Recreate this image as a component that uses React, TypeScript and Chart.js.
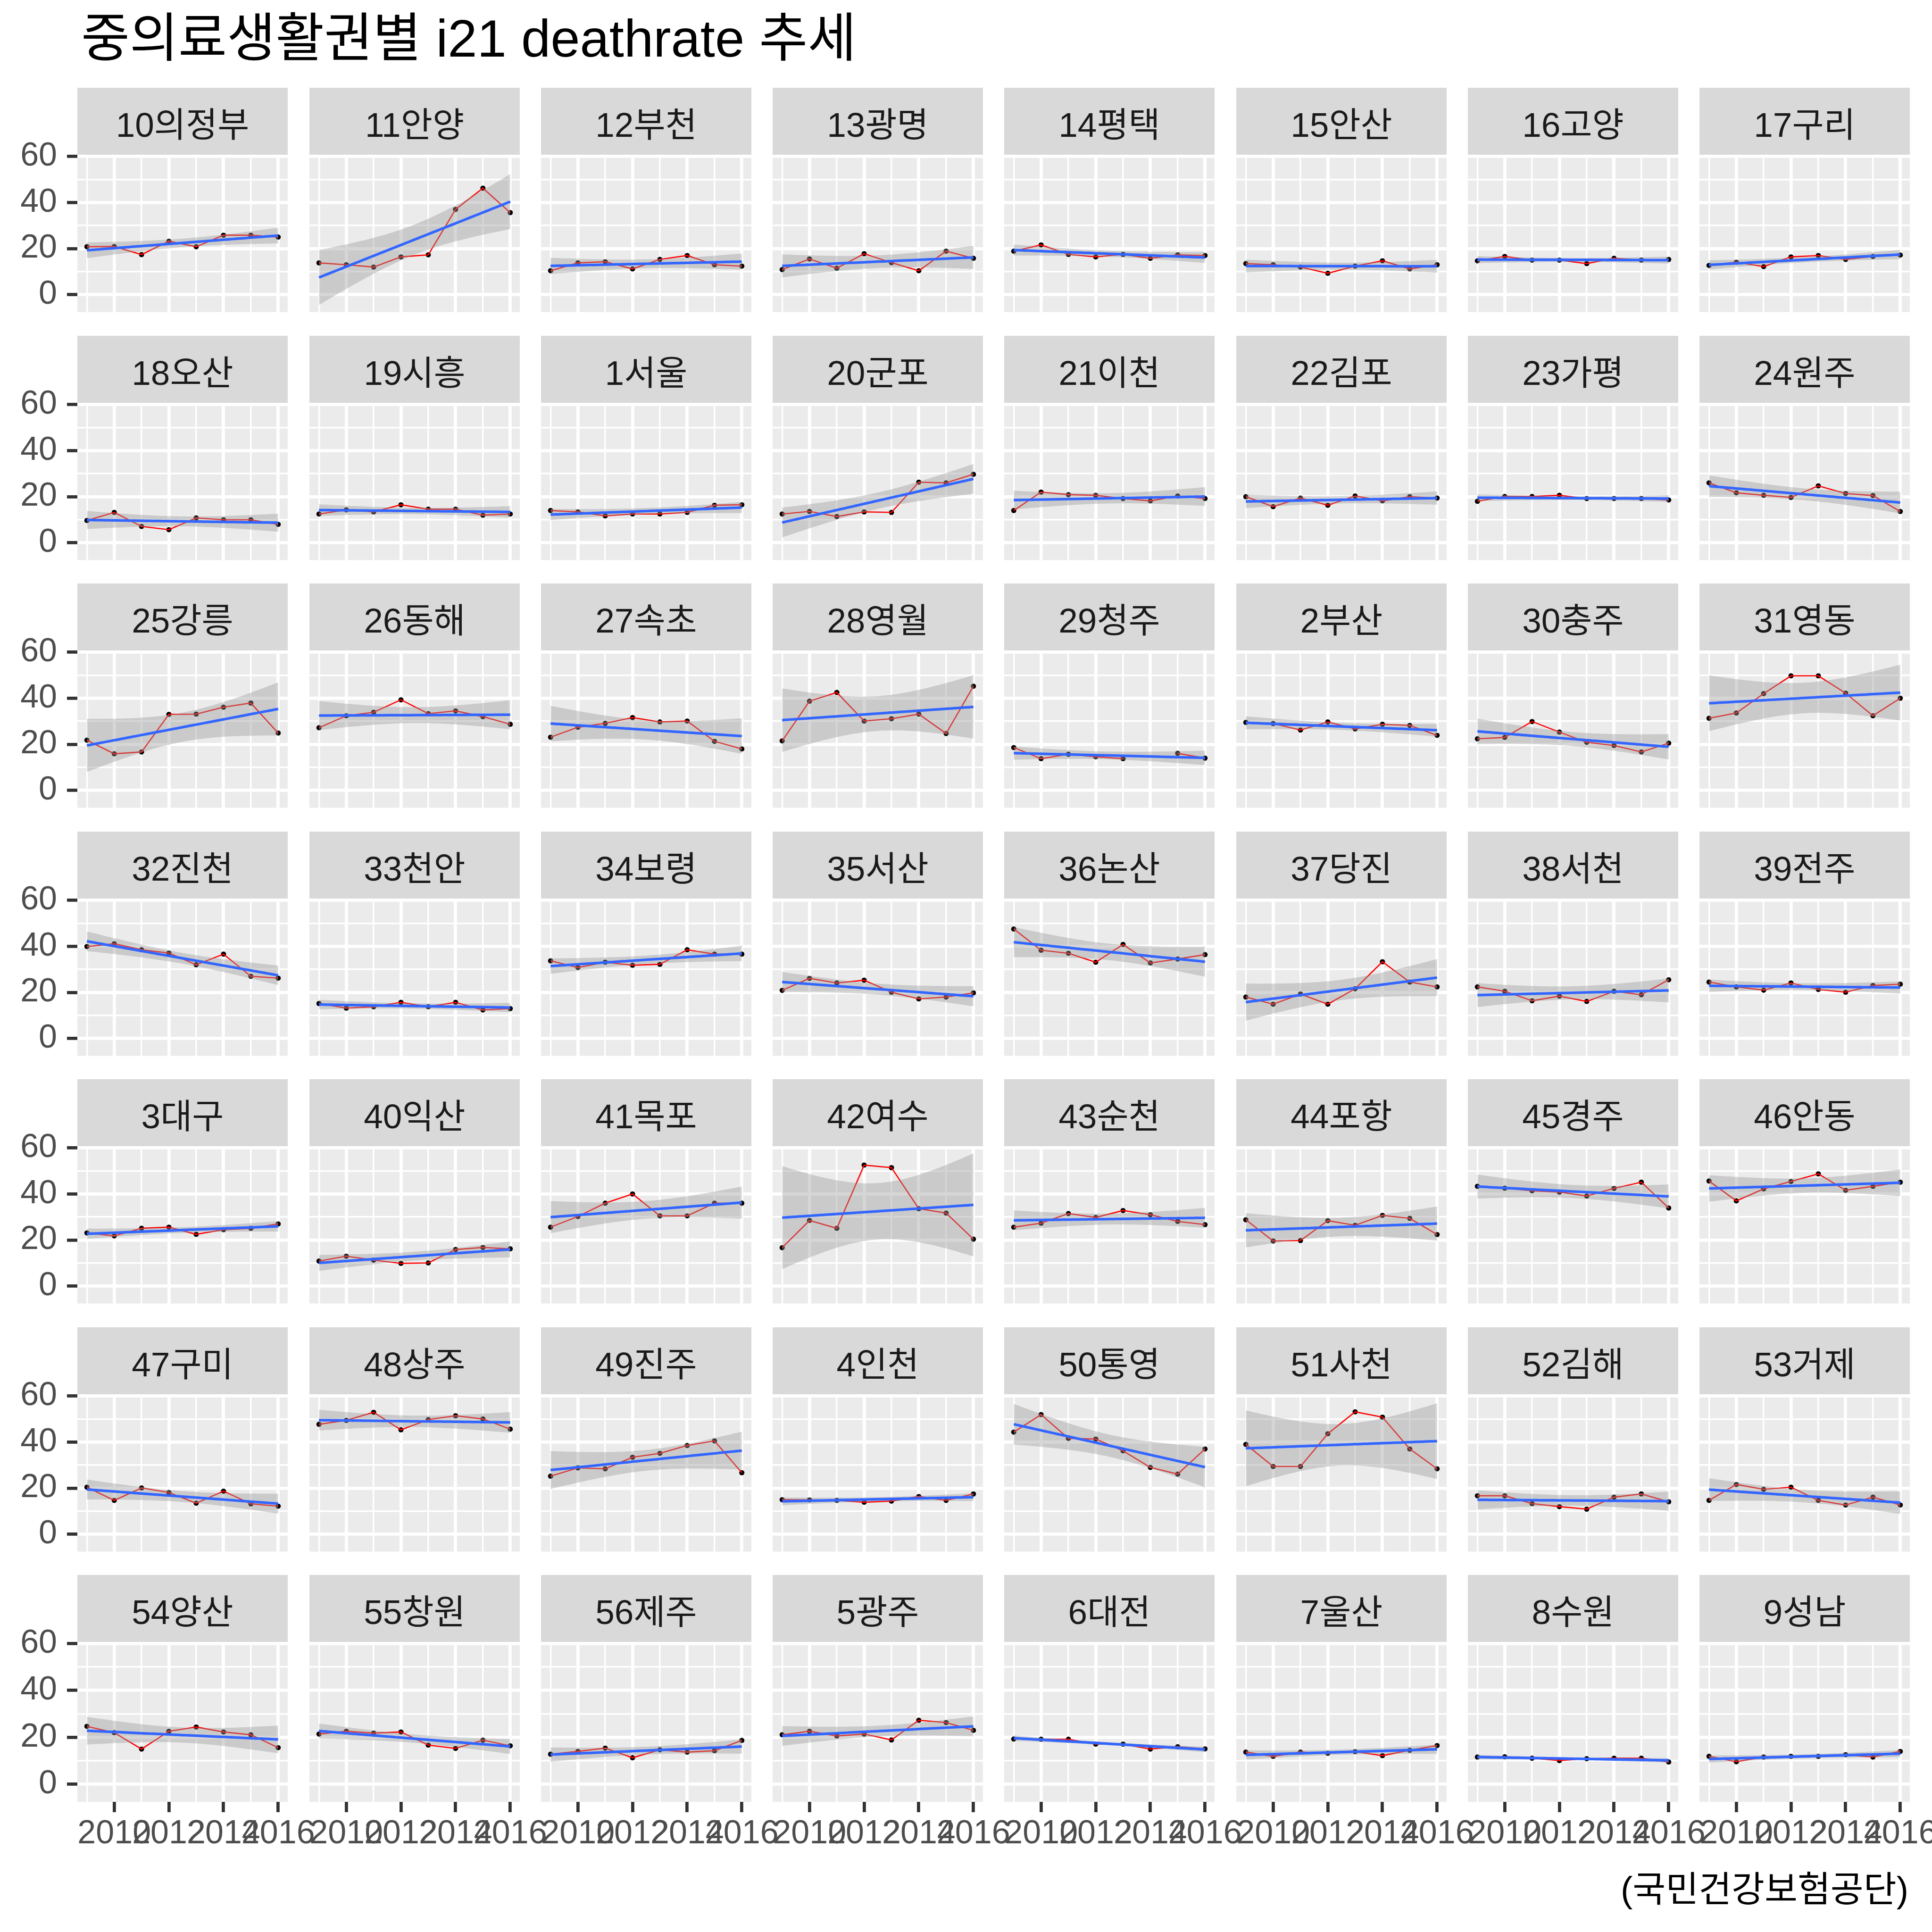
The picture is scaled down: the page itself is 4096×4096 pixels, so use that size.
import React, { useEffect, useRef } from "react";
import { Chart, registerables } from "chart.js";
Chart.register(...registerables);

// ---------------- data ----------------
const titleText = "중의료생활권별 i21 deathrate 추세";
const captionText = "(국민건강보험공단)";
const years = [2009, 2010, 2011, 2012, 2013, 2014, 2015, 2016];
const xGridYears = [2009, 2010, 2011, 2012, 2013, 2014, 2015, 2016];
const xTickLabels = ["2010", "2012", "2014", "2016"];
const yGridValues = [0, 10, 20, 30, 40, 50, 60];
const yTickLabels = ["0", "20", "40", "60"];

const regions = [
  "10의정부", "11안양", "12부천", "13광명", "14평택", "15안산", "16고양", "17구리",
  "18오산", "19시흥", "1서울", "20군포", "21이천", "22김포", "23가평", "24원주",
  "25강릉", "26동해", "27속초", "28영월", "29청주", "2부산", "30충주", "31영동",
  "32진천", "33천안", "34보령", "35서산", "36논산", "37당진", "38서천", "39전주",
  "3대구", "40익산", "41목포", "42여수", "43순천", "44포항", "45경주", "46안동",
  "47구미", "48상주", "49진주", "4인천", "50통영", "51사천", "52김해", "53거제",
  "54양산", "55창원", "56제주", "5광주", "6대전", "7울산", "8수원", "9성남",
];

const ratesRow1: (number | null)[][] = [
  [20.8, 20.9, 17.4, 23.2, 20.8, 25.8, 25.8, 25.0],
  [13.8, 13.0, 12.0, 16.4, 17.3, 37.0, 46.2, 35.6],
  [10.4, 13.8, 14.3, 11.2, 15.3, 17.0, 13.0, 12.4],
  [10.9, 15.5, 11.5, 17.8, 13.9, 10.4, 18.9, 15.8],
  [18.9, 21.6, 17.5, 16.4, 17.5, 15.8, 17.3, 17.0],
  [13.5, 13.0, 12.0, 9.3, 12.4, 14.7, 11.2, 13.0],
  [14.7, 16.6, 15.0, 15.0, 13.5, 15.8, 15.0, 15.3],
  [12.7, 14.1, 12.2, 16.4, 17.0, 15.3, 16.6, 17.2],
];
const ratesRow2: (number | null)[][] = [
  [9.7, 13.2, 7.1, 5.7, 10.8, 10.0, 10.0, 8.0],
  [12.5, 14.3, 13.4, 16.5, 14.6, 14.6, 12.0, 12.5],
  [14.0, 13.4, 11.7, 12.5, 12.5, 13.2, 16.3, 16.5],
  [12.5, 13.6, 11.4, 13.4, 13.2, 26.3, 26.0, 29.7],
  [14.0, 22.0, 20.9, 20.6, 19.2, 18.2, 20.3, 19.2],
  [20.0, 15.7, 19.4, 16.3, 20.3, 18.2, 20.0, 19.4],
  [18.0, 20.1, 20.1, 20.6, 19.2, 19.2, 19.2, 18.6],
  [26.0, 21.7, 20.6, 19.7, 24.7, 21.4, 20.5, 13.6],
];
const ratesRow3: (number | null)[][] = [
  [21.8, 15.9, 16.7, 33.0, 33.1, 36.1, 37.9, 24.9],
  [27.2, 32.4, 33.9, 39.3, 33.3, 34.5, 32.0, 28.7],
  [23.1, 27.4, 29.1, 31.6, 29.7, 30.1, 21.3, 18.0],
  [21.5, 38.7, 42.5, 30.1, 31.1, 33.1, 24.7, 45.2],
  [18.6, 13.8, 15.7, 14.6, 13.8, null, 16.1, 14.0],
  [29.5, 29.0, 26.2, 29.7, 26.7, 28.7, 28.2, 23.9],
  [22.4, 23.0, 29.9, 25.3, 20.9, 19.5, 16.7, 20.5],
  [31.3, 33.6, 42.0, 49.7, 49.7, 42.2, 32.4, 40.0],
];
const ratesRow4: (number | null)[][] = [
  [39.9, 41.1, 38.5, 37.1, 32.0, 36.6, 27.0, 26.2],
  [15.2, 13.2, 13.8, 15.7, 13.8, 15.7, 12.4, 13.0],
  [33.7, 30.8, 33.1, 31.8, 32.2, 38.5, 36.6, 36.6],
  [20.9, 26.1, 24.1, 25.3, 20.1, 17.2, 18.0, 19.8],
  [47.5, 38.3, 37.0, 33.1, 40.8, 32.8, 34.5, 36.4],
  [18.0, 14.9, 19.3, 14.9, 21.6, 33.3, 24.5, 22.4],
  [22.4, 20.5, 16.4, 18.4, 16.1, 20.5, 19.0, 25.5],
  [24.5, 22.4, 21.0, 24.1, 21.3, 20.1, 23.0, 23.6],
];
const ratesRow5: (number | null)[][] = [
  [23.1, 21.8, 25.1, 25.6, 22.5, 24.5, 25.1, 27.0],
  [10.9, 13.0, 11.3, 9.9, 10.1, 15.9, 16.8, 16.2],
  [25.6, 30.2, 36.0, 40.0, 30.5, 30.5, 36.0, 36.0],
  [16.7, 28.5, 25.1, 52.5, 51.4, 33.6, 31.7, 20.4],
  [25.6, 27.3, 31.5, 29.8, 32.8, 31.0, 28.1, 26.7],
  [28.8, 19.6, 19.8, 28.4, 26.4, 30.7, 29.4, 22.4],
  [43.3, 42.5, 41.4, 40.8, 39.1, 42.4, 45.1, 33.9],
  [45.6, 37.0, 42.2, 45.4, 48.7, 41.6, 43.3, 45.1],
];
const ratesRow6: (number | null)[][] = [
  [20.4, 14.7, 20.1, 18.1, 13.5, 18.7, 13.2, 12.2],
  [47.7, 49.4, 52.9, 45.3, 49.7, 51.4, 50.0, 45.6],
  [25.2, 28.8, 28.4, 33.4, 35.1, 38.5, 40.5, 26.7],
  [15.0, 14.9, 14.7, 13.9, 14.4, 16.4, 14.7, 17.5],
  [44.3, 51.9, 41.6, 41.3, 36.2, 29.0, 26.1, 37.0],
  [39.0, 29.4, 29.4, 43.6, 53.1, 50.8, 37.0, 28.4],
  [16.7, 16.7, 13.3, 12.0, 10.9, 16.1, 17.5, 14.1],
  [14.7, 21.6, 19.5, 20.4, 14.7, 12.7, 16.1, 12.7],
];
const ratesRow7: (number | null)[][] = [
  [24.7, 22.0, 15.0, 22.6, 24.4, 22.3, 21.1, 15.6],
  [21.4, 22.6, 21.8, 22.3, 16.7, 15.3, 18.8, 16.4],
  [12.8, 14.0, 15.4, 11.3, 14.7, 13.7, 14.3, 18.7],
  [21.1, 22.6, 20.6, 21.4, 18.9, 27.3, 26.3, 23.0],
  [19.3, 19.2, 19.2, 17.1, 17.1, 15.0, 16.0, 15.1],
  [13.7, 11.9, 13.7, 13.2, 13.9, 12.2, 14.5, 16.5],
  [11.6, 11.7, 11.1, 10.1, 10.9, 11.1, 11.1, 9.5],
  [11.9, 9.6, 11.6, 11.9, 11.9, 12.6, 11.6, 14.0],
];
const allRates = [
  ...ratesRow1, ...ratesRow2, ...ratesRow3, ...ratesRow4,
  ...ratesRow5, ...ratesRow6, ...ratesRow7,
];

// ---------------- layout ----------------
const K = 0.731;
const PANEL_W = Math.round(610 * K);
const PANEL_H = Math.round(462 * K);
const STRIP_H = Math.round(196 * K);
const panelLeft = (c: number) => Math.round((225 + 672 * c) * K);
const panelTop = (r: number) => Math.round((450 + 719 * r) * K);
const stripTop = (r: number) => panelTop(r) - STRIP_H;
const Y_AXIS_W = panelLeft(0);
const X_AXIS_H = 130;
const M = 100;
const TOP_PAD = 50;
const X_MIN = 2008.65, X_MAX = 2016.35;
const Y_MIN = -7.5, Y_MAX = 60.5;
const MAJ = 6.8, MIN = 3.4;
const TICK_FONT = { family: "'Liberation Sans', Arial, sans-serif", size: 70 };
const TEXT_FONT = "'Liberation Sans', 'Noto Sans CJK KR', sans-serif";

const T975: Record<number, number> = { 4: 2.776445, 5: 2.570582, 6: 2.446912 };

function lmBand(xs: number[], ys: number[]) {
  const n = xs.length;
  const mx = xs.reduce((a, b) => a + b, 0) / n;
  const my = ys.reduce((a, b) => a + b, 0) / n;
  let sxx = 0, sxy = 0;
  for (let i = 0; i < n; i++) {
    sxx += (xs[i] - mx) ** 2;
    sxy += (xs[i] - mx) * (ys[i] - my);
  }
  const b = sxy / sxx;
  const a = my - b * mx;
  let sse = 0;
  for (let i = 0; i < n; i++) sse += (ys[i] - (a + b * xs[i])) ** 2;
  const s = Math.sqrt(sse / (n - 2));
  const t = T975[n - 2];
  const x0 = Math.min(...xs), x1 = Math.max(...xs);
  const line: { x: number; y: number }[] = [];
  const upper: { x: number; y: number }[] = [];
  const lower: { x: number; y: number }[] = [];
  const N = 80;
  for (let k = 0; k < N; k++) {
    const x = x0 + ((x1 - x0) * k) / (N - 1);
    const f = a + b * x;
    const se = s * Math.sqrt(1 / n + (x - mx) ** 2 / sxx);
    line.push({ x, y: f });
    upper.push({ x, y: f + t * se });
    lower.push({ x, y: f - t * se });
  }
  return { line, upper, lower };
}

const bgPlugin = {
  id: "panelBg",
  beforeDraw(chart: any) {
    const { ctx, chartArea } = chart;
    if (!chartArea) return;
    ctx.save();
    ctx.fillStyle = "#EBEBEB";
    ctx.fillRect(chartArea.left, chartArea.top, chartArea.right - chartArea.left, chartArea.bottom - chartArea.top);
    ctx.restore();
  },
};

function Panel({ idx }: { idx: number }) {
  const ref = useRef<HTMLCanvasElement>(null);
  const r = Math.floor(idx / 8);
  const c = idx % 8;
  const isLeft = c === 0;
  const isBottom = r === 6;
  const yW = isLeft ? Y_AXIS_W : 0;
  const xH = isBottom ? X_AXIS_H : 0;
  const cw = PANEL_W + yW + 2 * M;
  const ch = PANEL_H + xH + TOP_PAD;

  useEffect(() => {
    const vals = allRates[idx];
    const obs = years.map((y, i) => ({ x: y, y: vals[i] }));
    const pts = obs.filter((p) => p.y !== null) as { x: number; y: number }[];
    const band = lmBand(pts.map((p) => p.x), pts.map((p) => p.y));
    const chart = new Chart(ref.current as HTMLCanvasElement, {
      type: "line",
      data: {
        datasets: [
          { data: band.line, borderColor: "#3366FF", borderWidth: 5.5, pointRadius: 0, fill: false, order: 0, tension: 0 },
          { data: band.upper, borderColor: "transparent", borderWidth: 0, pointRadius: 0, fill: "+1", backgroundColor: "rgba(153,153,153,0.4)", order: 1 },
          { data: band.lower, borderColor: "transparent", borderWidth: 0, pointRadius: 0, fill: false, order: 1 },
          { data: obs as any, borderColor: "#FF0000", borderWidth: 2.6, pointRadius: 0, fill: false, spanGaps: false, order: 2 },
          { data: pts, showLine: false, pointRadius: 5.5, pointBackgroundColor: "#000000", pointBorderWidth: 0, borderColor: "#000000", order: 3 },
        ],
      },
      options: {
        animation: false,
        responsive: false,
        devicePixelRatio: 1,
        events: [],
        layout: { padding: { left: M, right: M, top: TOP_PAD, bottom: 0 } },
        plugins: { legend: { display: false }, tooltip: { enabled: false }, title: { display: false } },
        scales: {
          x: {
            type: "linear",
            position: "bottom",
            min: X_MIN,
            max: X_MAX,
            bounds: "data",
            afterBuildTicks: (s: any) => {
              s.ticks = xGridYears.map((v) => ({ value: v }));
            },
            afterFit: (s: any) => {
              s.height = xH;
              s.paddingLeft = 0; s.paddingRight = 0; s.paddingTop = 0; s.paddingBottom = 0;
            },
            ticks: {
              display: isBottom,
              autoSkip: false,
              maxRotation: 0,
              minRotation: 0,
              padding: 5,
              color: "#4D4D4D",
              font: TICK_FONT,
              callback: (v: any) => (xTickLabels.includes(String(v)) ? String(v) : ""),
            },
            grid: {
              color: "#FFFFFF",
              lineWidth: (ctx: any) => (ctx.tick && ctx.tick.value % 2 === 0 ? MAJ : MIN),
              drawTicks: isBottom,
              tickLength: 22,
              tickWidth: MAJ,
              tickColor: (ctx: any) => (ctx.tick && ctx.tick.value % 2 === 0 ? "#333333" : "rgba(0,0,0,0)"),
            },
            border: { display: false },
          },
          y: {
            type: "linear",
            position: "left",
            min: Y_MIN,
            max: Y_MAX,
            bounds: "data",
            afterBuildTicks: (s: any) => {
              s.ticks = yGridValues.map((v) => ({ value: v }));
            },
            afterFit: (s: any) => {
              s.width = yW;
              s.paddingLeft = 0; s.paddingRight = 0; s.paddingTop = 0; s.paddingBottom = 0;
            },
            ticks: {
              display: isLeft,
              autoSkip: false,
              padding: 21,
              color: "#4D4D4D",
              font: TICK_FONT,
              callback: (v: any) => (yTickLabels.includes(String(v)) ? String(v) : ""),
            },
            grid: {
              color: "#FFFFFF",
              lineWidth: (ctx: any) => (ctx.tick && ctx.tick.value % 20 === 0 ? MAJ : MIN),
              drawTicks: isLeft,
              tickLength: 22,
              tickWidth: MAJ,
              tickColor: (ctx: any) => (ctx.tick && ctx.tick.value % 20 === 0 ? "#333333" : "rgba(0,0,0,0)"),
            },
            border: { display: false },
          },
        },
      } as any,
      plugins: [bgPlugin],
    });
    return () => chart.destroy();
  }, []);

  return (
    <canvas
      ref={ref}
      width={cw}
      height={ch}
      style={{ position: "absolute", left: panelLeft(c) - yW - M, top: panelTop(r) - TOP_PAD, width: cw, height: ch }}
    />
  );
}

function Strip({ idx }: { idx: number }) {
  const r = Math.floor(idx / 8);
  const c = idx % 8;
  return (
    <div
      style={{
        position: "absolute",
        left: panelLeft(c),
        top: stripTop(r),
        width: PANEL_W,
        height: STRIP_H,
        background: "#D9D9D9",
        display: "flex",
        alignItems: "center",
        justifyContent: "center",
        fontFamily: TEXT_FONT,
        fontSize: 73,
        color: "#1A1A1A",
        whiteSpace: "nowrap",
      }}
    >
      {regions[idx]}
    </div>
  );
}

export default function App() {
  return (
    <div style={{ position: "absolute", left: 0, top: 0, width: 4096, height: 4096, background: "#FFFFFF", overflow: "hidden" }}>
      <div
        style={{
          position: "absolute",
          left: 172,
          top: 26,
          fontFamily: TEXT_FONT,
          fontSize: 112,
          lineHeight: "112px",
          color: "#000000",
          whiteSpace: "nowrap",
        }}
      >
        {titleText}
      </div>
      {regions.map((_, i) => (
        <Strip key={"s" + i} idx={i} />
      ))}
      {regions.map((_, i) => (
        <Panel key={"p" + i} idx={i} />
      ))}
      <div
        style={{
          position: "absolute",
          right: 4096 - 4046,
          top: 3963,
          fontFamily: TEXT_FONT,
          fontSize: 76,
          lineHeight: "86px",
          color: "#000000",
          whiteSpace: "nowrap",
        }}
      >
        {captionText}
      </div>
    </div>
  );
}
